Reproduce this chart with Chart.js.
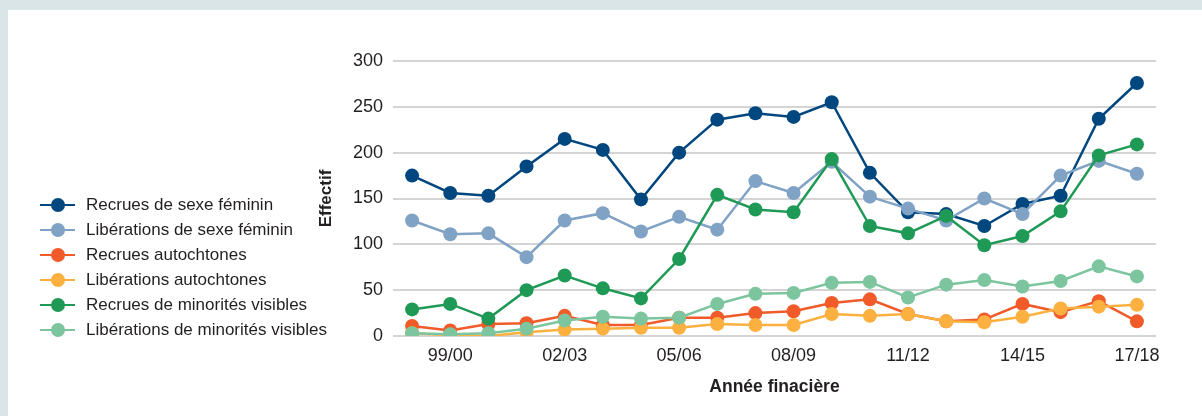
<!DOCTYPE html>
<html>
<head>
<meta charset="utf-8">
<script src="https://cdn.jsdelivr.net/npm/chart.js@4/dist/chart.umd.min.js"></script>
<style>
  html, body { margin: 0; padding: 0; }
  body { width: 1202px; height: 416px; background: #dae5e7; position: relative; overflow: hidden; font-family: 'Liberation Sans', Arial, sans-serif; }
  #panel { position: absolute; left: 8px; top: 10px; width: 1194px; height: 406px; background: #ffffff; }
  #chart { position: absolute; left: 0; top: 0; }
  #legend { position: absolute; left: 32px; top: 182px; }
  .row { position: relative; height: 25px; width: 300px; }
  .row .ln { position: absolute; left: 0; top: 11.5px; width: 35px; height: 2.5px; }
  .row .dot { position: absolute; left: 10.5px; top: 5.5px; width: 14px; height: 14px; border-radius: 50%; }
  .row .tx { position: absolute; left: 46px; top: 0; line-height: 25px; font-size: 17px; color: #231f20; white-space: nowrap; }
</style>
</head>
<body>
<div id="panel">
  <canvas id="chart" width="1194" height="406"></canvas>
  <div id="legend"></div>
</div>
<script>
const categories = ['98/99','99/00','00/01','01/02','02/03','03/04','04/05','05/06','06/07','07/08','08/09','09/10','10/11','11/12','12/13','13/14','14/15','15/16','16/17','17/18'];
const tickLabels = ['99/00','02/03','05/06','08/09','11/12','14/15','17/18'];
const seriesNames = ['Recrues de sexe féminin','Libérations de sexe féminin','Recrues autochtones','Libérations autochtones','Recrues de minorités visibles','Libérations de minorités visibles'];
const seriesColors = ['#00467f','#7fa2c5','#f15a29','#fbb040','#1f9a56','#7cc59e'];

const recruesFemmes      = [175,156,153,185,215,203,149,200,236,243,239,255,178,135,133,120,144,153,237,276];
const liberationsFemmes  = [126,111,112, 86,126,134,114,130,116,169,156,190,152,139,126,150,133,175,191,177];
const recruesAutoch      = [ 11,  6, 13, 14, 22, 12, 12, 20, 20, 25, 27, 36, 40, 24, 16, 18, 35, 26, 38, 16];
const liberationsAutoch  = [  3,  1,  0,  4,  7,  8,  9,  9, 13, 12, 12, 24, 22, 24, 16, 15, 21, 30, 32, 34];
const recruesMinorites   = [ 29, 35, 19, 50, 66, 52, 41, 84,154,138,135,193,120,112,131, 99,109,136,197,209];
const liberationsMinor   = [  3,  2,  3,  8, 17, 21, 19, 20, 35, 46, 47, 58, 59, 42, 56, 61, 54, 60, 76, 65];

const yTicks = [0, 50, 100, 150, 200, 250, 300];
const xTitle = 'Année finacière';
const yTitle = 'Effectif';

const seriesValues = [recruesFemmes, liberationsFemmes, recruesAutoch, liberationsAutoch, recruesMinorites, liberationsMinor];

const FONT = "'Liberation Sans', Arial, sans-serif";

const datasets = seriesValues.map((vals, i) => ({
  label: seriesNames[i],
  data: vals,
  borderColor: seriesColors[i],
  backgroundColor: seriesColors[i],
  borderWidth: 2.5,
  pointRadius: 7,
  pointHoverRadius: 7,
  pointBorderWidth: 0,
  pointBackgroundColor: seriesColors[i],
  tension: 0,
  fill: false,
  order: seriesValues.length - i
}));

new Chart(document.getElementById('chart'), {
  type: 'line',
  data: { labels: categories, datasets: datasets },
  options: {
    responsive: false,
    devicePixelRatio: 1,
    animation: false,
    layout: { padding: { left: 308, right: 46, top: 51, bottom: 18 } },
    plugins: { legend: { display: false }, tooltip: { enabled: false } },
    scales: {
      x: {
        type: 'category',
        offset: true,
        grid: { display: false, drawTicks: false },
        border: { display: false },
        ticks: {
          autoSkip: false, maxRotation: 0, minRotation: 0, padding: 9,
          color: '#231f20', font: { family: FONT, size: 18 },
          callback: function(v, idx) { const l = this.getLabelForValue(v); return tickLabels.includes(l) ? l : ''; }
        },
        title: { display: true, text: xTitle, color: '#231f20', font: { family: FONT, size: 17.5, weight: 'bold' }, padding: { top: 0, bottom: 0 } },
        afterFit: s => { s.height = 62; }
      },
      y: {
        min: 0, max: 300,
        afterBuildTicks: s => { s.ticks = yTicks.map(v => ({ value: v })); },
        grid: { color: '#d4d4d4', lineWidth: 2, drawTicks: false },
        border: { display: false },
        ticks: { padding: 10, color: '#231f20', font: { family: FONT, size: 18 } },
        title: { display: true, text: yTitle, color: '#231f20', font: { family: FONT, size: 17, weight: 'bold' }, padding: { top: 0, bottom: 0 } },
        afterFit: s => { s.width = 77; }
      }
    }
  }
});

const legend = document.getElementById('legend');
seriesNames.forEach((name, i) => {
  const row = document.createElement('div');
  row.className = 'row';
  const ln = document.createElement('div'); ln.className = 'ln'; ln.style.background = seriesColors[i];
  const dot = document.createElement('div'); dot.className = 'dot'; dot.style.background = seriesColors[i];
  const tx = document.createElement('div'); tx.className = 'tx'; tx.textContent = name;
  row.appendChild(ln); row.appendChild(dot); row.appendChild(tx);
  legend.appendChild(row);
});
</script>
</body>
</html>
